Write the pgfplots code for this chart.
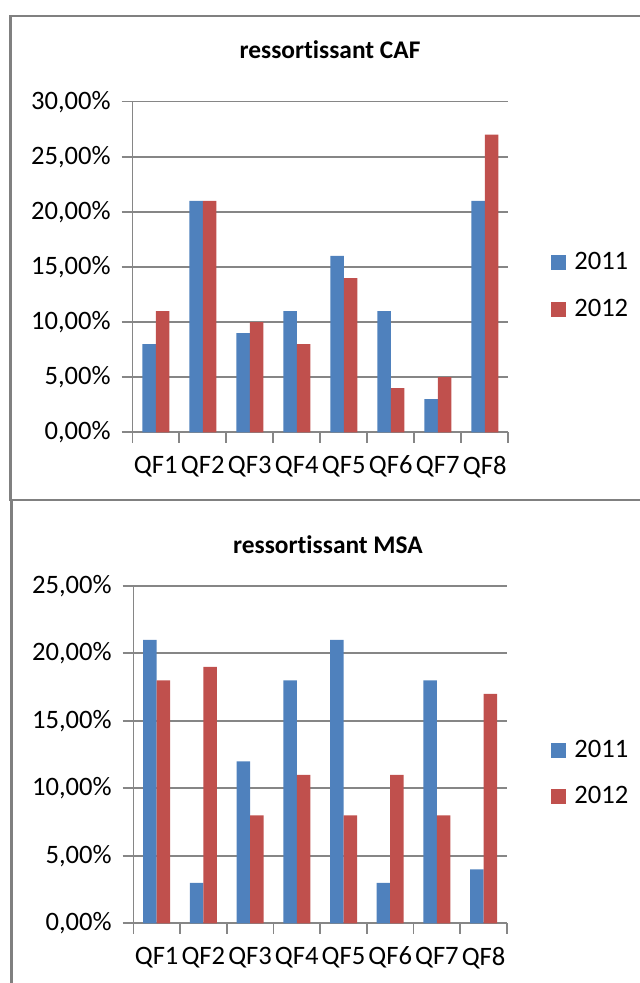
\documentclass[border=0pt]{standalone}
\usepackage{fontspec}
\setmainfont{Carlito}[Ligatures=NoCommon]
\usepackage{pgfplots}
\pgfplotsset{compat=1.18}
\definecolor{bar11}{HTML}{4F81BD}
\definecolor{bar12}{HTML}{C0504D}
\definecolor{gridgray}{HTML}{868686}
\definecolor{framegray}{HTML}{808080}

\pgfplotsset{
  qfchart/.style={
    scale only axis,
    ybar=0pt, bar width=6.75pt,
    xmin=-0.5, xmax=7.5,
    xtick={0,...,7},
    xticklabels={QF1,QF2,QF3,QF4,QF5,QF6,QF7,QF8},
    major x tick style={draw=none},
    minor xtick={-0.5,0.5,...,7.5},
    minor tick length=5.3pt,
    major tick length=5.3pt,
    tick align=outside,
    axis lines*=left,
    axis line style={draw=gridgray, line width=0.8pt},
    every tick/.style={draw=gridgray, line width=0.8pt},
    ymajorgrids,
    grid style={draw=gridgray, line width=0.8pt},
    ymin=0,
    tick label style={font=\fontsize{13.3}{16}\selectfont},
    yticklabel style={xshift=-2pt},
    xticklabel style={yshift=-3pt},
    title style={font=\bfseries\fontsize{12.7}{15}\selectfont, anchor=center},
    legend style={draw=none, fill=none, anchor=west,
      inner xsep=0pt, inner ysep=0pt, row sep=9pt,
      font=\fontsize{13.3}{16}\selectfont,
      /tikz/every odd column/.style={column sep=2pt}},
    legend cell align=left,
    legend image code/.code={\fill[#1] (0pt,-3.75pt) rectangle (7.5pt,3.75pt);},
  },
}

\begin{document}
\begin{tikzpicture}
\useasboundingbox (0,0) rectangle (320pt,491.5pt);
% chart frames
\draw[framegray, line width=1.4pt] (330pt,483.5pt) -- (5.25pt,483.5pt) -- (5.25pt,241.5pt) -- (330pt,241.5pt);
\draw[framegray, line width=1.4pt] (5.75pt,241.5pt) -- (5.75pt,-10pt);

% CAF
\begin{axis}[qfchart,
  at={(66.15pt,275.35pt)}, anchor=south west,
  width=188pt, height=165.3pt,
  ymax=30, ytick={0,5,...,30},
  yticklabels={{0,00\%},{5,00\%},{10,00\%},{15,00\%},{20,00\%},{25,00\%},{30,00\%}},
  title={ressortissant CAF},
  title style={at={(0.526,1.12)}},
  legend style={at={(1,0.4425)}, xshift=21.3pt},
]
\addplot[fill=bar11, draw=none] coordinates {(0,8) (1,21) (2,9) (3,11) (4,16) (5,11) (6,3) (7,21)};
\addplot[fill=bar12, draw=none] coordinates {(0,11) (1,21) (2,10) (3,8) (4,14) (5,4) (6,5) (7,27)};
\legend{2011,2012}
\end{axis}

% MSA
\begin{axis}[qfchart,
  at={(66.65pt,29.85pt)}, anchor=south west,
  width=186.85pt, height=168.75pt,
  ymax=25, ytick={0,5,...,25},
  yticklabels={{0,00\%},{5,00\%},{10,00\%},{15,00\%},{20,00\%},{25,00\%}},
  title={ressortissant MSA},
  title style={at={(0.521,1.085)}},
  legend style={at={(1,0.444)}, xshift=22pt},
]
\addplot[fill=bar11, draw=none] coordinates {(0,21) (1,3) (2,12) (3,18) (4,21) (5,3) (6,18) (7,4)};
\addplot[fill=bar12, draw=none] coordinates {(0,18) (1,19) (2,8) (3,11) (4,8) (5,11) (6,8) (7,17)};
\legend{2011,2012}
\end{axis}
\end{tikzpicture}
\end{document}
